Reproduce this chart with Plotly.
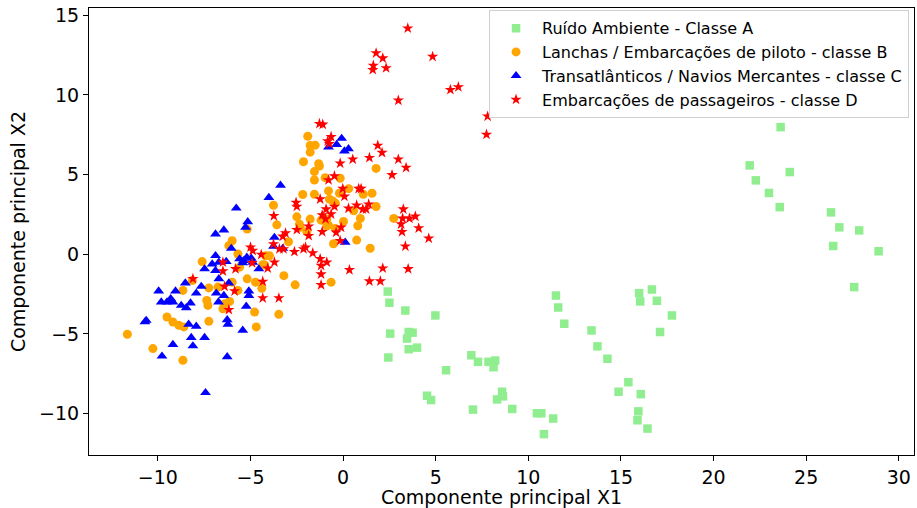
import plotly.graph_objects as go

# Classe A - ruído ambiente
a_x = [2.41, 2.50, 3.36, 4.98, 2.54, 3.54, 3.75, 3.45, 3.54, 3.99, 2.44, 5.56,
       6.92, 7.28, 7.85, 8.21, 8.12, 4.53, 4.75, 7.01, 8.58, 8.63, 8.31, 9.13,
       10.46, 10.70, 11.34, 10.84, 11.49, 11.61, 11.94, 13.41, 13.73, 14.27,
       15.98, 16.67, 16.04, 16.94, 17.75, 17.11, 15.40, 14.87, 16.07, 15.94,
       15.89, 16.43, 23.62, 21.95, 24.11, 22.28, 22.99, 23.57, 26.34, 26.79,
       27.86, 26.46, 28.91, 27.59]
a_y = [-2.34, -3.04, -3.53, -3.84, -4.98, -4.88, -4.92, -5.29, -5.96, -5.86, -6.48, -7.28,
       -6.34, -6.75, -6.75, -6.67, -7.09, -8.88, -9.15, -9.75, -8.63, -8.92, -9.11, -9.71,
       -9.98, -9.98, -10.31, -11.29, -2.59, -3.34, -4.36, -4.78, -5.78, -6.56,
       -2.44, -2.21, -2.96, -2.92, -3.84, -4.88, -8.03, -8.63, -8.78, -9.86,
       -10.42, -10.94, 7.98, 5.58, 5.16, 4.64, 3.85, 2.96, 2.63, 1.69,
       1.50, 0.52, 0.19, -2.06]

# Classe B - lanchas / embarcações de piloto
b_x = [-1.91, -1.78, -1.51, -1.78, -2.14, -1.32, -1.28, 1.78, -1.55, -1.55, -0.97, -0.16,
       -0.79, 0.30, -0.20, -2.18, -1.55, 1.09, 1.56, -0.74, -0.56, -0.42, 1.78, -3.76,
       0.57, 0.93, -2.50, -1.78, -1.19, -0.88, 0.02, 2.73, -3.58, -2.36, -0.88, -0.79,
       0.79, -2.32, -1.96, -0.42, -2.95, -0.52, 0.73, 1.46, -3.98, -4.24, -3.20, -2.59,
       -0.65, -4.73, -4.39, -5.99, -6.17, -5.68, -7.61, -5.18, -4.19, -4.34, -11.65,
       -10.27, -8.65, -9.51, -9.19, -8.87, -8.60, -7.25, -4.69, -4.78, -5.18, -8.65,
       -8.14, -7.25, -6.76, -5.68, -7.36, -7.30, -6.40, -6.13, -6.49, -5.59, -3.47, -5.99]
b_y = [7.41, 6.83, 6.85, 6.41, 5.81, 5.69, 5.54, 5.39, 5.19, 4.66, 4.81, 4.77,
       3.98, 4.12, 3.83, 3.75, 3.77, 3.77, 3.83, 3.46, 3.35, 3.21, 3.00, 3.08,
       2.73, 2.25, 2.35, 2.21, 2.14, 2.21, 2.06, 2.25, 1.85, 1.89, 1.79, 1.83,
       1.79, 1.69, 1.41, 1.62, 0.79, 0.66, 0.89, 0.38, -0.09, -0.67, -1.34, -1.92,
       -1.75, -1.75, -2.13, 0.85, 0.54, 0.02, -0.46, 1.58, -0.09, -0.65, -5.02,
       -5.92, -6.65, -3.94, -4.25, -4.46, -4.56, -4.21, -4.56, -3.63, -1.54, -2.27,
       -1.65, -2.11, -2.06, -2.27, -2.90, -3.21, -3.11, -2.96, -3.42, -0.81, -3.77, -1.75]

# Classe C - transatlânticos / navios mercantes
c_x = [-0.08, -0.35, -0.79, 0.07, 0.29, -3.38, -4.01, 0.11, -3.71, -3.76, -3.26, -5.77,
       -6.89, -6.44, -5.15, -5.27, -6.04, -6.89, -7.48, -7.07, -6.89, -5.38, -5.20, -6.31,
       -4.55, -9.96, -8.52, -9.05, -7.66, -7.93, -9.82, -9.31, -9.51, -9.19, -8.74, -8.47,
       -8.24, -6.85, -6.44, -6.73, -6.17, -5.09, -5.09, -5.23, -10.63, -10.70, -8.34, -7.93,
       -6.26, -6.22, -8.20, -7.48, -5.42, -9.19, -8.11, -9.78, -6.26, -7.43, -4.88,
       -6.71, -6.71, -5.59, -4.96, -5.42]
c_y = [7.27, 6.89, 6.73, 6.48, 6.62, 4.33, 3.56, 0.75, 1.06, 0.50, 0.37, 2.89,
       1.27, 1.52, 2.04, 1.69, 0.37, -0.09, -0.92, -0.61, -1.02, -0.40, -0.19, -0.46,
       -0.92, -2.31, -1.81, -2.31, -2.02, -2.44, -3.00, -2.79, -3.00, -3.00, -3.21, -3.36,
       -3.06, -2.44, -2.59, -3.00, -1.81, -2.31, -2.59, -3.27, -4.15, -4.25, -4.40, -4.52,
       -4.11, -4.40, -5.23, -5.23, -4.77, -5.67, -5.75, -6.40, -6.44, -8.69, -0.50,
       -0.50, -1.54, -0.29, -0.25, -0.54]

# Classe D - embarcações de passageiros
d_x = [3.49, 1.78, 2.14, 1.63, 1.60, 2.32, 4.83, 2.98, 5.79, 6.22, 7.80, 7.74,
       -1.28, -1.10, -0.65, -0.83, -0.74, 1.87, 2.10, 0.52, 1.42, 2.98, -0.16, 3.40,
       2.64, -0.47, -0.79, -0.02, 0.07, 0.84, 0.97, -1.24, -2.54, -2.50, -0.47, 0.29,
       0.73, 1.06, 1.38, 1.24, -0.92, 3.25, -3.74, -1.13, -0.65, -0.95, 3.21, 3.58,
       3.90, 3.13, -1.86, -0.11, 4.08, 3.18, -2.50, -1.13, -0.38, -3.11, -3.26, -1.86,
       4.62, -0.16, -3.76, 3.36, -3.44, -3.22, -2.03, -2.14, -2.63, -1.64, -4.42, -3.71,
       -1.24, -0.88, -1.19, -1.19, 0.34, 2.14, 3.51, -1.19, 1.42, 2.01, -4.34, -4.91,
       -3.47, -4.34, -4.07, -5.00, -4.88, -6.49, -6.49, -5.81, -8.11, -6.40, -5.86, -6.17]
d_y = [14.19, 12.63, 12.31, 11.85, 11.58, 11.69, 12.41, 9.66, 10.33, 10.50, 8.66, 7.52,
       8.19, 8.15, 7.38, 7.10, 6.94, 6.83, 6.38, 5.96, 6.06, 5.96, 5.71, 5.44,
       4.98, 4.91, 4.66, 4.12, 3.63, 4.12, 4.12, 3.46, 3.25, 3.00, 3.00, 2.88,
       3.08, 2.83, 3.14, 2.83, 2.83, 2.83, 2.41, 2.46, 2.52, 2.21, 2.25, 2.25,
       2.38, 1.89, 1.75, 1.69, 1.64, 1.41, 1.54, 1.41, 1.37, 1.33, 1.12, 1.16,
       1.00, 0.85, 0.64, 0.50, 0.33, 0.33, 0.44, 0.33, 0.16, 0.08, -0.02, -0.50,
       -0.29, -0.50, -0.71, -1.25, -0.98, -0.88, -0.92, -1.92, -1.69, -1.69, -1.71, -0.54,
       -2.75, -2.75, -0.88, 0.44, 0.23, -0.50, -1.06, -0.92, -1.54, -2.02, -2.31, -3.48]

series = [
    ("Ruído Ambiente - Classe A", a_x, a_y, "square", "#90EE90", 8.5),
    ("Lanchas / Embarcações de piloto - classe B", b_x, b_y, "circle", "#FFA500", 9),
    ("Transatlânticos / Navios Mercantes - classe C", c_x, c_y, "triangle-up", "#0000FF", 9.5),
    ("Embarcações de passageiros - classe D", d_x, d_y, "star", "#FF0000", 8.5),
]

fig = go.Figure()
for name, xs, ys, sym, col, sz in series:
    fig.add_trace(go.Scatter(
        x=xs, y=ys, mode="markers", name=name,
        marker=dict(symbol=sym, color=col, size=sz, line=dict(width=0)),
    ))

font_family = "DejaVu Sans"
axis_common = dict(
    showgrid=False, zeroline=False, showline=True, linecolor="#000000", linewidth=1,
    mirror=True, ticks="outside", ticklen=5, tickwidth=1, tickcolor="#000000",
    tickfont=dict(size=19, color="#000000", family=font_family),
    dtick=5,
)

fig.update_layout(
    width=917, height=508,
    margin=dict(l=89, r=2, t=8, b=51),
    paper_bgcolor="white", plot_bgcolor="white",
    font=dict(family=font_family, color="#000000"),
    xaxis=dict(range=[-13.72, 30.82], tick0=0,
               title=dict(text="Componente principal X1", font=dict(size=19), standoff=5),
               **axis_common),
    yaxis=dict(range=[-12.6, 15.46], tick0=0,
               title=dict(text="Componente principal X2", font=dict(size=19), standoff=8),
               **axis_common),
    legend=dict(
        x=0.994, y=0.995, xanchor="right", yanchor="top",
        bgcolor="white", bordercolor="#D0D0D0", borderwidth=1,
        font=dict(size=16, family=font_family, color="#000000"),
        itemsizing="trace", itemwidth=42, tracegroupgap=0,
    ),
    showlegend=True,
)

fig.write_html("out.html")
